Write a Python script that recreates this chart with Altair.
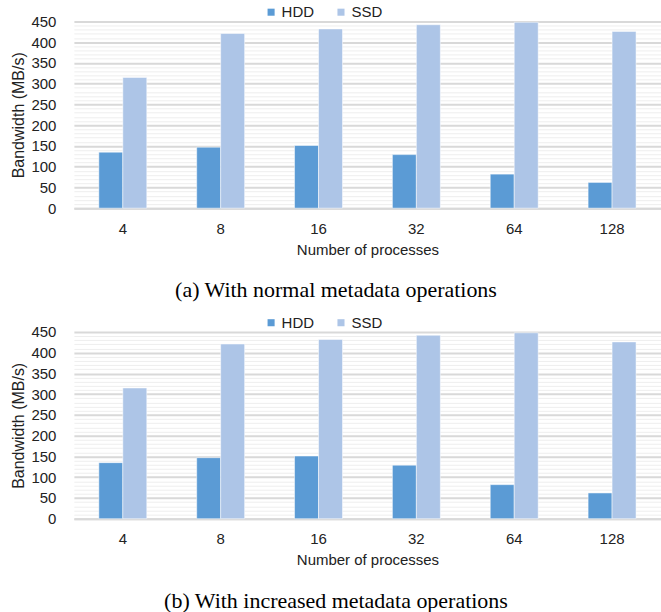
import altair as alt
import pandas as pd

processes = ["4", "8", "16", "32", "64", "128"]
hdd = [135, 147, 151, 129, 82, 62]
ssd = [315, 421, 432, 442, 448, 426]
devices = ["HDD", "SSD"]
colors = ["#5B9BD5", "#ADC5E7"]
captions = ["(a) With normal metadata operations", "(b) With increased metadata operations"]

rows = []
for p, h, s in zip(processes, hdd, ssd):
    rows.append({"processes": p, "device": "HDD", "bw": h})
    rows.append({"processes": p, "device": "SSD", "bw": s})
df = pd.DataFrame(rows)

FONT = "Liberation Sans"


def panel(caption):
    return alt.Chart(
        df,
        title=alt.TitleParams(caption, orient="bottom", font="Liberation Serif", fontSize=22,
                              fontWeight="normal", color="black", offset=23, frame="bounds"),
    ).mark_bar(stroke="white", strokeWidth=1, strokeOpacity=0.5).encode(
        x=alt.X("processes:N", sort=processes,
                scale=alt.Scale(paddingInner=0.51, paddingOuter=0.255),
                axis=alt.Axis(title="Number of processes", labelAngle=0, ticks=False,
                              domainColor="#d9d9d9", domainWidth=2, labelPadding=13,
                              titlePadding=6, labelFont=FONT, titleFont=FONT,
                              labelFontSize=15, titleFontSize=15, titleFontWeight="normal",
                              labelColor="#222", titleColor="#222")),
        xOffset=alt.XOffset("device:N", sort=devices),
        y=alt.Y("bw:Q", scale=alt.Scale(domain=[0, 450], nice=False),
                axis=alt.Axis(title="Bandwidth (MB/s)", values=list(range(0, 451, 10)),
                              labelExpr="datum.value % 50 === 0 ? datum.label : ''",
                              labelOverlap=False, ticks=False, domain=False,
                              gridColor={"condition": {"test": "datum.value % 50 === 0", "value": "#d9d9d9"}, "value": "#eeeeee"},
                              gridWidth={"condition": {"test": "datum.value % 50 === 0", "value": 2}, "value": 1},
                              labelPadding=18, titlePadding=4, labelFont=FONT, titleFont=FONT,
                              labelFontSize=15, titleFontSize=16, titleFontWeight="normal",
                              labelColor="#222", titleColor="#222")),
        color=alt.Color("device:N", sort=devices,
                        scale=alt.Scale(domain=devices, range=colors),
                        legend=alt.Legend(title=None, orient="none", legendX=190, legendY=-17,
                                          direction="horizontal", symbolType="square",
                                          symbolSize=50, symbolStrokeWidth=0, labelFont=FONT,
                                          labelFontSize=15, labelColor="#222", columnPadding=19,
                                          labelOffset=3)),
    ).properties(width=588, height=187)


chart = alt.vconcat(panel(captions[0]), panel(captions[1]), spacing=14).resolve_legend(
    color="independent"
).properties(
    padding={"left": 10, "top": 4, "right": 0, "bottom": 0}
).configure_view(stroke=None)

chart.save("out.html", embed_options={"renderer": "svg", "actions": False})
